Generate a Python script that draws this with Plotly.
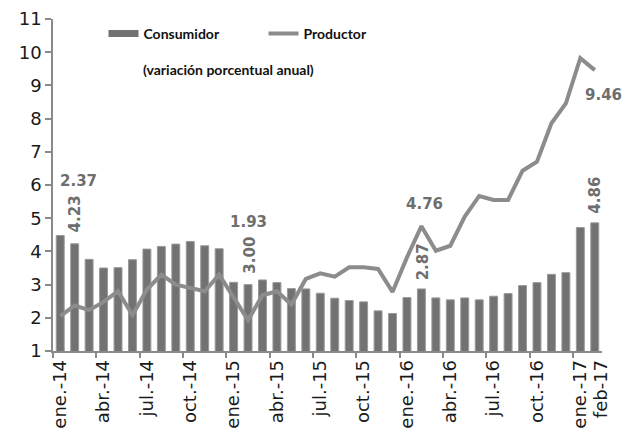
import plotly.graph_objects as go

months = ["ene.-14","feb.-14","mar.-14","abr.-14","may.-14","jun.-14","jul.-14","ago.-14","sep.-14","oct.-14","nov.-14","dic.-14",
          "ene.-15","feb.-15","mar.-15","abr.-15","may.-15","jun.-15","jul.-15","ago.-15","sep.-15","oct.-15","nov.-15","dic.-15",
          "ene.-16","feb.-16","mar.-16","abr.-16","may.-16","jun.-16","jul.-16","ago.-16","sep.-16","oct.-16","nov.-16","dic.-16",
          "ene.-17","feb-17"]
consumidor = [4.48, 4.23, 3.76, 3.50, 3.51, 3.75, 4.07, 4.15, 4.22, 4.30, 4.17, 4.08,
              3.07, 3.00, 3.14, 3.06, 2.88, 2.87, 2.74, 2.59, 2.52, 2.48, 2.21, 2.13,
              2.61, 2.87, 2.60, 2.54, 2.60, 2.54, 2.65, 2.73, 2.97, 3.06, 3.31, 3.36,
              4.72, 4.86]
productor = [2.05, 2.37, 2.23, 2.48, 2.80, 2.08, 2.85, 3.30, 3.00, 2.90, 2.80, 3.30,
             2.63, 1.93, 2.68, 2.80, 2.40, 3.17, 3.34, 3.24, 3.52, 3.52, 3.47, 2.78,
             3.82, 4.76, 4.02, 4.17, 5.05, 5.67, 5.55, 5.55, 6.43, 6.70, 7.86, 8.46,
             9.82, 9.46]
tick_labels = ["ene.-14","abr.-14","jul.-14","oct.-14","ene.-15","abr.-15","jul.-15","oct.-15",
               "ene.-16","abr.-16","jul.-16","oct.-16","ene.-17","feb-17"]
label_months = [1, 13, 25, 37]  # February of each year

x = list(range(len(months)))
label_pos = [0, 3, 6, 9, 12, 15, 18, 21, 24, 27, 30, 33, 36, 37.45]
boundaries = [i - 0.5 for i in range(0, 37, 3)]

BAR_COLOR = "#727272"
fig = go.Figure()
fig.add_trace(go.Bar(x=x, y=consumidor, name="Consumidor", width=0.55,
                     marker=dict(color=BAR_COLOR, line=dict(color="#9a9a9a", width=1)),
                     showlegend=False))
# legend entry drawn as a flat wide bar, like the original
fig.add_trace(go.Scatter(x=[None], y=[None], name="Consumidor", mode="lines",
                         line=dict(color=BAR_COLOR, width=7)))
fig.add_trace(go.Scatter(x=x, y=productor, name="Productor", mode="lines",
                         line=dict(color="#8c8c8c", width=4)))
# invisible trace to host the boundary-tick axis
fig.add_trace(go.Scatter(x=[x[0]], y=[consumidor[0]], xaxis="x2", mode="markers",
                         marker=dict(opacity=0), showlegend=False, hoverinfo="skip"))

lab_font = dict(family="DejaVu Sans", size=15, color="#6e6e6e", weight="bold")
shifts_prod = {1: (4, 125), 13: (0, 98), 25: (3, 22), 37: (9, -25)}
shifts_cons = {1: (0, 30), 13: (2, 29), 25: (2, 27), 37: (0, 28)}
for i in label_months:
    dx, dy = shifts_prod[i]
    fig.add_annotation(x=i, y=productor[i], text=f"{productor[i]:.2f}", showarrow=False,
                       xshift=dx, yshift=dy, font=lab_font, xanchor="center", yanchor="middle")
    dx, dy = shifts_cons[i]
    fig.add_annotation(x=i, y=consumidor[i], text=f"{consumidor[i]:.2f}", showarrow=False,
                       xshift=dx, yshift=dy, font=lab_font, textangle=-90,
                       xanchor="center", yanchor="middle")

fig.add_annotation(xref="paper", yref="paper", x=0.32, y=0.849, xanchor="center", yanchor="middle",
                   text="(variación porcentual anual)", showarrow=False,
                   font=dict(family="Lato", size=14, color="#111", weight="bold"))

fig.update_layout(
    width=627, height=428,
    margin=dict(l=53, r=25, t=19, b=77, autoexpand=False),
    paper_bgcolor="white", plot_bgcolor="white",
    bargap=0.45,
    legend=dict(orientation="h", x=0.092, y=0.955, xanchor="left", yanchor="middle",
                font=dict(family="Lato", size=14, color="#111", weight="bold"),
                entrywidth=115, itemwidth=30, bgcolor="rgba(0,0,0,0)"),
    xaxis=dict(range=[-0.5, 37.5], tickmode="array", tickvals=label_pos, ticktext=tick_labels,
               tickangle=-90, ticks="", showline=True, linecolor="#8a8a8a", linewidth=1.5,
               showgrid=False, zeroline=False,
               tickfont=dict(family="DejaVu Sans", size=18, color="#1a1a1a")),
    xaxis2=dict(range=[-0.5, 37.5], overlaying="x", anchor="y", side="bottom",
                tickmode="array", tickvals=boundaries, ticks="outside", ticklen=6,
                tickcolor="#8a8a8a", tickwidth=1.5, showticklabels=False, showgrid=False,
                zeroline=False, showline=False),
    yaxis=dict(range=[1, 11], dtick=1, tick0=1, ticks="outside", ticklen=6, tickcolor="#8a8a8a",
               tickwidth=1.5, showline=True, linecolor="#8a8a8a", linewidth=1.5,
               showgrid=False, zeroline=False,
               tickfont=dict(family="DejaVu Sans", size=18, color="#1a1a1a")),
)
fig.write_html("out.html", config={"displayModeBar": False},
               post_script="document.body.style.margin='0';document.body.style.overflow='hidden';")
